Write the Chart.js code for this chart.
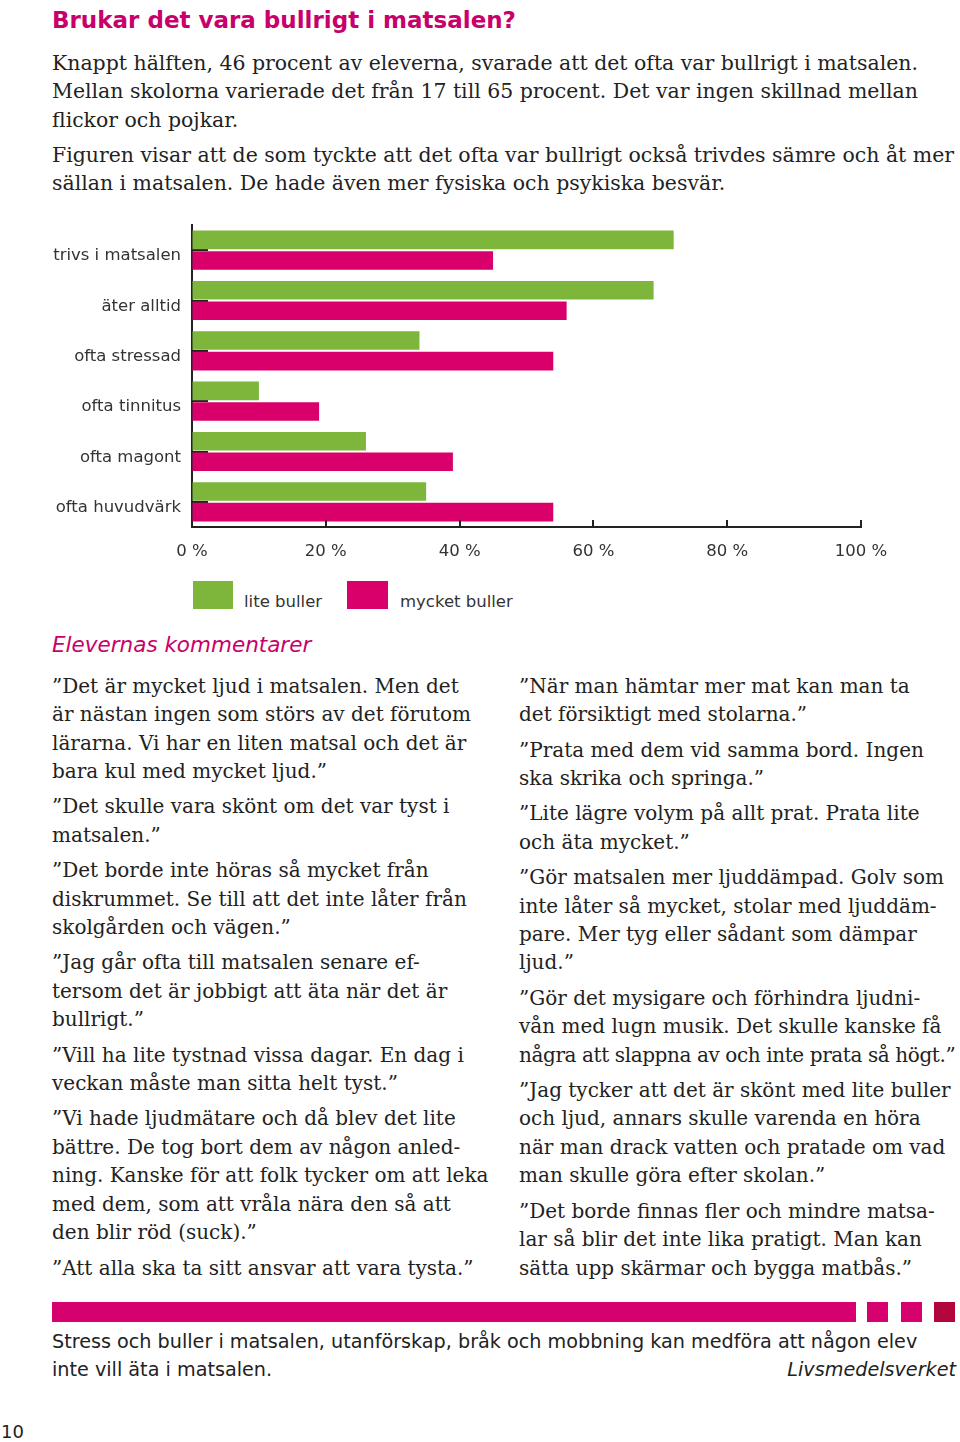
<!DOCTYPE html>
<html lang="sv">
<head>
<meta charset="utf-8">
<script src="https://cdn.jsdelivr.net/npm/chart.js@4.4.1/dist/chart.umd.min.js"></script>
<style>
  html, body { margin: 0; padding: 0; background: #fff; }
  body { width: 960px; height: 1442px; position: relative; overflow: hidden; color: #222; }
  .abs { position: absolute; white-space: nowrap; }
  h1 { position: absolute; left: 52px; top: 5px; margin: 0; font: bold 23px/30px "DejaVu Sans", sans-serif; color: #c8006b; }
  .serif { font-family: "DejaVu Serif", serif; font-size: 20px; line-height: 28.4px; color: #222; }
  .serif p { margin: 0 0 7px 0; }
  .intro { font-size: 20.45px; }
  .tight { letter-spacing: -0.4px; }
  h2 { position: absolute; left: 52px; top: 630px; margin: 0; font: italic 21.5px/30px "DejaVu Sans", sans-serif; color: #c8006b; font-weight: normal; }
  #chartBox { position: absolute; left: 0; top: 200px; width: 960px; height: 365px; }
  .lg-box { position: absolute; top: 581px; height: 28px; }
  .lg-txt { position: absolute; top: 592px; font: 16.5px/20px "DejaVu Sans", sans-serif; color: #333; }
  .foot-bar { position: absolute; top: 1302px; height: 20px; background: #d6006e; }
  .foot { position: absolute; left: 52px; top: 1328px; width: 904px; font: 19.2px/28px "DejaVu Sans", sans-serif; color: #222; white-space: nowrap; }
  .foot i { position: absolute; right: 0; top: 28px; }
  .pageno { position: absolute; left: 1px; top: 1420px; font: 18px/24px "DejaVu Sans", sans-serif; color: #222; }
</style>
</head>
<body>
<h1>Brukar det vara bullrigt i matsalen?</h1>

<div class="abs serif intro" style="left:52px; top:48.8px;">
  <p>Knappt hälften, 46 procent av eleverna, svarade att det ofta var bullrigt i matsalen.<br>Mellan skolorna varierade det från 17 till 65 procent. Det var ingen skillnad mellan<br>flickor och pojkar.</p>
  <p>Figuren visar att de som tyckte att det ofta var bullrigt också trivdes sämre och åt mer<br>sällan i matsalen. De hade även mer fysiska och psykiska besvär.</p>
</div>

<div id="chartBox"><canvas id="noiseChart"></canvas></div>

<div class="lg-box" style="left:193px; width:40px; background:#7db63a;"></div>
<div class="lg-txt" style="left:244px;">lite buller</div>
<div class="lg-box" style="left:347px; width:41px; background:#d9006c;"></div>
<div class="lg-txt" style="left:400px;">mycket buller</div>

<h2>Elevernas kommentarer</h2>

<div class="abs serif" style="left:52px; top:671.8px;">
  <p>”Det är mycket ljud i matsalen. Men det<br>är nästan ingen som störs av det förutom<br>lärarna. Vi har en liten matsal och det är<br>bara kul med mycket ljud.”</p>
  <p>”Det skulle vara skönt om det var tyst i<br>matsalen.”</p>
  <p>”Det borde inte höras så mycket från<br>diskrummet. Se till att det inte låter från<br>skolgården och vägen.”</p>
  <p>”Jag går ofta till matsalen senare ef-<br>tersom det är jobbigt att äta när det är<br>bullrigt.”</p>
  <p>”Vill ha lite tystnad vissa dagar. En dag i<br>veckan måste man sitta helt tyst.”</p>
  <p>”Vi hade ljudmätare och då blev det lite<br>bättre. De tog bort dem av någon anled-<br>ning. Kanske för att folk tycker om att leka<br>med dem, som att vråla nära den så att<br>den blir röd (suck).”</p>
  <p>”Att alla ska ta sitt ansvar att vara tysta.”</p>
</div>

<div class="abs serif" style="left:519px; top:671.8px;">
  <p>”När man hämtar mer mat kan man ta<br>det försiktigt med stolarna.”</p>
  <p>”Prata med dem vid samma bord. Ingen<br>ska skrika och springa.”</p>
  <p>”Lite lägre volym på allt prat. Prata lite<br>och äta mycket.”</p>
  <p>”Gör matsalen mer ljuddämpad. Golv som<br>inte låter så mycket, stolar med ljuddäm-<br>pare. Mer tyg eller sådant som dämpar<br>ljud.”</p>
  <p>”Gör det mysigare och förhindra ljudni-<br>vån med lugn musik. Det skulle kanske få<br><span class="tight">några att slappna av och inte prata så högt.”</span></p>
  <p>”Jag tycker att det är skönt med lite buller<br>och ljud, annars skulle varenda en höra<br>när man drack vatten och pratade om vad<br>man skulle göra efter skolan.”</p>
  <p>”Det borde finnas fler och mindre matsa-<br>lar så blir det inte lika pratigt. Man kan<br>sätta upp skärmar och bygga matbås.”</p>
</div>

<div class="foot-bar" style="left:52px; width:804px;"></div>
<div class="foot-bar" style="left:867px; width:21px;"></div>
<div class="foot-bar" style="left:901px; width:21px;"></div>
<div class="foot-bar" style="left:934px; width:21px; background:#b3063d;"></div>
<div class="foot">Stress och buller i matsalen, utanförskap, bråk och mobbning kan medföra att någon elev<br>inte vill äta i matsalen.<i>Livsmedelsverket</i></div>
<div class="pageno">10</div>

<script>
// data
const categories = ['trivs i matsalen', 'äter alltid', 'ofta stressad', 'ofta tinnitus', 'ofta magont', 'ofta huvudvärk'];
const liteBuller = [72, 69, 34, 10, 26, 35];
const mycketBuller = [45, 56, 54, 19, 39, 54];
const xTicks = [0, 20, 40, 60, 80, 100];

// small inward tick marks, like the printed figure
const innerTicks = {
    id: 'innerTicks',
    beforeDatasetsDraw(chart) {
        const { ctx, chartArea, scales } = chart;
        ctx.save();
        ctx.strokeStyle = '#222';
        ctx.lineWidth = 2;
        categories.forEach((c, i) => {
            const y = Math.round(scales.y.getPixelForTick(i));
            ctx.beginPath();
            ctx.moveTo(chartArea.left, y);
            ctx.lineTo(chartArea.left + 16, y);
            ctx.stroke();
        });
        ctx.restore();
    },
    afterDraw(chart) {
        const { ctx, chartArea, scales } = chart;
        ctx.save();
        ctx.strokeStyle = '#222';
        ctx.lineWidth = 2;
        xTicks.slice(1).forEach(v => {
            const x = Math.round(scales.x.getPixelForValue(v));
            ctx.beginPath();
            ctx.moveTo(x, chartArea.bottom);
            ctx.lineTo(x, chartArea.bottom - 7);
            ctx.stroke();
        });
        ctx.restore();
    }
};

function initNoiseChart() {
    const ctx = document.getElementById('noiseChart');
    if (!ctx) return;
    new Chart(ctx, {
        type: 'bar',
        data: {
            labels: categories,
            datasets: [
                { label: 'lite buller', data: liteBuller, backgroundColor: '#7db63a', barPercentage: 0.9, categoryPercentage: 0.82 },
                { label: 'mycket buller', data: mycketBuller, backgroundColor: '#d9006c', barPercentage: 0.9, categoryPercentage: 0.82 }
            ]
        },
        options: {
            indexAxis: 'y',
            responsive: true, maintainAspectRatio: false, animation: false,
            layout: { padding: { top: 25, right: 99, left: 0, bottom: 0 } },
            plugins: { legend: { display: false }, tooltip: { enabled: false } },
            scales: {
                x: {
                    min: 0, max: 100,
                    afterBuildTicks: s => { s.ticks = xTicks.map(v => ({ value: v })); },
                    afterFit: s => { s.height = 38; },
                    grid: { drawOnChartArea: false, drawTicks: false },
                    border: { color: '#222', width: 2 },
                    ticks: { padding: 15, color: '#333', font: { family: 'DejaVu Sans', size: 16.5 }, maxRotation: 0, callback: v => v + ' %' }
                },
                y: {
                    afterFit: s => { s.width = 192; },
                    grid: { drawOnChartArea: false, drawTicks: false },
                    border: { color: '#222', width: 2 },
                    ticks: { padding: 11, labelOffset: 6, color: '#333', font: { family: 'DejaVu Sans', size: 16.5 } }
                }
            }
        },
        plugins: [innerTicks]
    });
}

initNoiseChart();
</script>
</body>
</html>
